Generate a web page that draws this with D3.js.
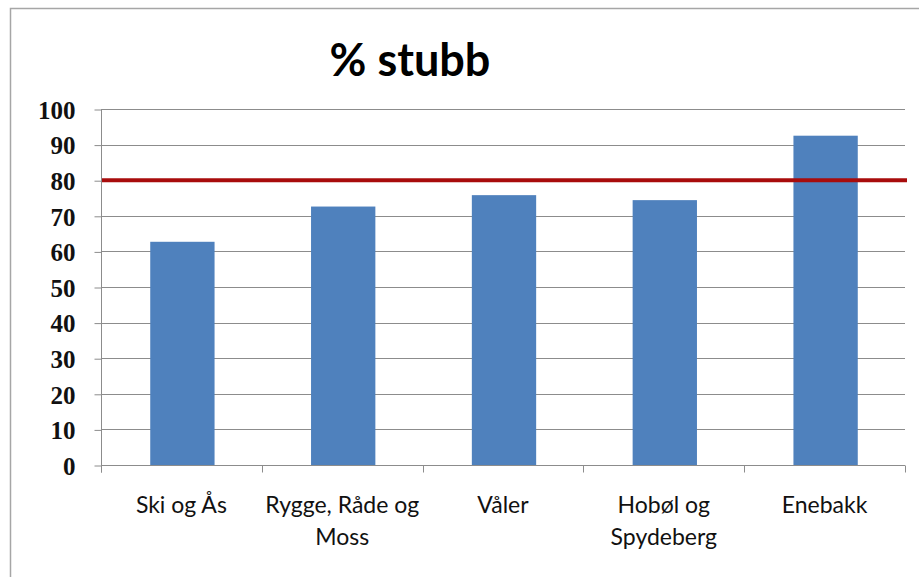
<!DOCTYPE html>
<html>
<head>
<meta charset="utf-8">
<script src="https://cdn.jsdelivr.net/npm/d3@7"></script>
<style>
  html, body { margin: 0; padding: 0; background: #fff; }
  svg { display: block; }
</style>
</head>
<body>
<svg id="chart" width="919" height="577"></svg>
<script>
const categories = [["Ski og Ås"], ["Rygge, Råde og", "Moss"], ["Våler"], ["Hobøl og", "Spydeberg"], ["Enebakk"]];
const values = [62.7, 72.6, 75.8, 74.4, 92.5];
const yTicks = [0, 10, 20, 30, 40, 50, 60, 70, 80, 90, 100];
const targetValue = 80;
const title = "% stubb";

(function () {
const svg = d3.select("#chart");
const pLeft = 101, pRight = 905, pTop = 109, pBottom = 465;

// outer chart border
svg.append("rect").attr("x", 10.5).attr("y", 8.5).attr("width", 930).attr("height", 600)
  .attr("fill", "#fff").attr("stroke", "#a6a6a6").attr("stroke-width", 1.5);

const keys = categories.map((c, i) => i);
const x = d3.scaleBand().domain(keys).range([pLeft, pRight]).paddingInner(0.6).paddingOuter(0.3);
const xb = d3.scaleBand().domain(keys).range([pLeft, pRight]).padding(0);
const y = d3.scaleLinear().domain([0, 100]).range([pBottom, pTop]);

// gridlines
svg.append("g").selectAll("line").data(yTicks.filter(t => t > 0)).join("line")
  .attr("x1", pLeft).attr("x2", pRight)
  .attr("y1", d => Math.round(y(d)) + 0.5).attr("y2", d => Math.round(y(d)) + 0.5)
  .attr("stroke", "#8c8c8c").attr("stroke-width", 1);

// bars
svg.append("g").selectAll("rect").data(values).join("rect")
  .attr("x", (d, i) => x(i) + 1)
  .attr("width", x.bandwidth())
  .attr("y", d => y(d))
  .attr("height", d => pBottom - y(d))
  .attr("fill", "#4f81bd");

// y axis
const yAxis = d3.axisLeft(y).tickValues(yTicks).tickSize(7).tickPadding(19).tickFormat(d3.format("d"));
const gy = svg.append("g").attr("transform", `translate(${pLeft + 0.5},0.5)`).call(yAxis);
gy.select(".domain").attr("d", `M0,${pTop - 0.5}V${pBottom + 7}`).attr("stroke", "#8c8c8c");
gy.selectAll(".tick line").attr("stroke", "#8c8c8c");
gy.selectAll(".tick text")
  .attr("font-family", "'Liberation Serif', 'DejaVu Serif', serif")
  .attr("font-weight", "bold").attr("font-size", 25).attr("fill", "#111")
  .attr("dy", "0.35em");

// x axis
const gx = svg.append("g").attr("transform", `translate(0,${pBottom + 0.5})`);
gx.append("line").attr("x1", pLeft).attr("x2", pRight).attr("stroke", "#8c8c8c");
gx.selectAll("line.t").data(keys.concat([keys.length])).join("line").attr("class", "t")
  .attr("x1", d => d < keys.length ? Math.round(xb(d)) + 0.5 : pRight + 0.5)
  .attr("x2", d => d < keys.length ? Math.round(xb(d)) + 0.5 : pRight + 0.5)
  .attr("y1", 0).attr("y2", 7).attr("stroke", "#8c8c8c");

// category labels
const lab = svg.append("g").selectAll("text").data(categories).join("text")
  .attr("text-anchor", "middle")
  .attr("font-family", "Lato, 'Open Sans', sans-serif")
  .attr("font-size", 23).attr("fill", "#111");
lab.each(function(lines, i) {
  const t = d3.select(this);
  lines.forEach((l, j) => {
    t.append("tspan").attr("x", xb(i) + xb.bandwidth() / 2).attr("y", 513 + j * 32).text(l);
  });
});

// target line
svg.append("line")
  .attr("x1", pLeft + 1).attr("x2", 907)
  .attr("y1", y(targetValue)).attr("y2", y(targetValue))
  .attr("stroke", "#a80c0c").attr("stroke-width", 4);

// title
svg.append("text").attr("x", 410).attr("y", 76).attr("text-anchor", "middle")
  .attr("font-family", "Lato, 'Open Sans', sans-serif").attr("font-weight", "bold")
  .attr("font-size", 45).attr("fill", "#000").text(title);
})();
</script>
</body>
</html>
